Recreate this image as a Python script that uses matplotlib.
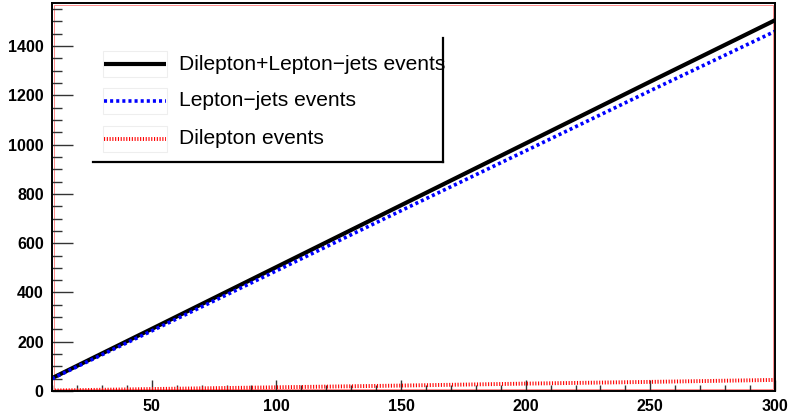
import matplotlib
matplotlib.use("Agg")
import matplotlib.pyplot as plt
from matplotlib.lines import Line2D
from matplotlib.patches import Rectangle
from matplotlib.ticker import MultipleLocator

# event yields vs. x
x_vals = [10, 50, 100, 150, 200, 250, 300]
total_events = [52, 252, 503, 754, 1005, 1256, 1505]
ljets_events = [50, 244, 488, 732, 975, 1219, 1460]
dilep_events = [2, 8, 15, 22, 30, 37, 45]

labels = ["Dilepton+Lepton\u2212jets events", "Lepton\u2212jets events", "Dilepton events"]

plt.rcParams['font.family'] = ['Liberation Sans', 'DejaVu Sans']
plt.rcParams['lines.scale_dashes'] = False

W, H = 790, 418
fig = plt.figure(figsize=(W / 100, H / 100), dpi=100)
ax_l, ax_r, ax_b, ax_t = 52, 775, 391, 3
aw, ah = ax_r - ax_l, ax_b - ax_t
ax = fig.add_axes([ax_l / W, (H - ax_b) / H, aw / W, ah / H])

styles = [
    dict(color='black', lw=3.0, ls='-'),
    dict(color='blue', lw=2.6, dashes=(2.2, 2.2)),
    dict(color='red', lw=2.8, dashes=(0.8, 1.2)),
]
for ys, st in zip([total_events, ljets_events, dilep_events], styles):
    ax.plot(x_vals, ys, solid_capstyle='butt', dash_capstyle='butt', **st)

ax.set_xlim(10, 300)
ax.set_ylim(0, 1575)
ax.xaxis.set_major_locator(MultipleLocator(50))
ax.xaxis.set_minor_locator(MultipleLocator(10))
ax.yaxis.set_major_locator(MultipleLocator(200))
ax.yaxis.set_minor_locator(MultipleLocator(50))
ax.tick_params(axis='both', which='both', direction='in', top=False, right=False,
               color='#333333', width=1.0)
ax.tick_params(axis='y', which='major', length=15, pad=6)
ax.tick_params(axis='y', which='minor', length=7.5)
ax.tick_params(axis='x', which='major', length=8, pad=6)
ax.tick_params(axis='x', which='minor', length=4)
ax.set_xticks([50, 100, 150, 200, 250, 300])
for lab in ax.get_xticklabels() + ax.get_yticklabels():
    lab.set_fontweight('bold')
    lab.set_fontsize(11.5)

for sp in ax.spines.values():
    sp.set_color('black')
    sp.set_linewidth(1.4)
# thin red inner frame
ins = 2.2
ax.add_patch(Rectangle((ins / aw, ins / ah), 1 - 2 * ins / aw, 1 - 2 * ins / ah,
                       transform=ax.transAxes, fill=False, edgecolor='#ff6060',
                       lw=0.5, zorder=1, clip_on=False))

# legend drawn in pixel coordinates of the figure
def fx(px):
    return px / W

def fy(py):
    return (H - py) / H

entry_y = [64, 101, 139]
for yy, lab, st in zip(entry_y, labels, styles):
    fig.add_artist(Rectangle((fx(103), fy(yy + 13)), fx(167) - fx(103), fy(yy - 13) - fy(yy + 13),
                             transform=fig.transFigure, fill=False, edgecolor='#eeeeee', lw=0.8))
    fig.add_artist(Line2D([fx(104), fx(166)], [fy(yy), fy(yy)], transform=fig.transFigure,
                          solid_capstyle='butt', dash_capstyle='butt', **st))
    fig.text(fx(179), fy(yy), lab, fontsize=15.1, va='center', ha='left')

fig.add_artist(Line2D([fx(93), fx(443)], [fy(162), fy(162)], transform=fig.transFigure,
                      color='black', lw=1.6))
fig.add_artist(Line2D([fx(443), fx(443)], [fy(38), fy(162)], transform=fig.transFigure,
                      color='black', lw=1.6))

fig.savefig('out.png', dpi=100)
